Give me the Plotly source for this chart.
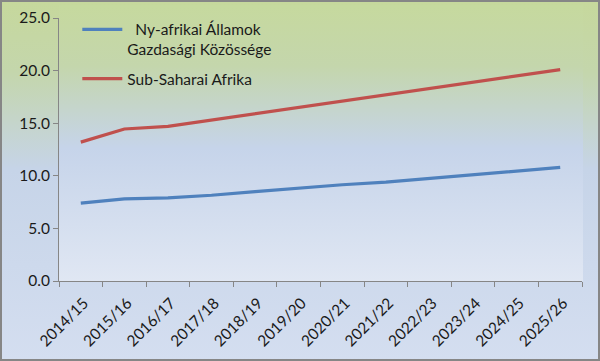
import base64
import plotly.graph_objects as go

categories = ["2014/15", "2015/16", "2016/17", "2017/18", "2018/19", "2019/20",
              "2020/21", "2021/22", "2022/23", "2023/24", "2024/25", "2025/26"]
ecowas = [7.4, 7.8, 7.9, 8.15, 8.5, 8.85, 9.15, 9.4, 9.75, 10.1, 10.4, 10.8]
ssa = [13.2, 14.45, 14.7, 15.3, 15.9, 16.5, 17.1, 17.7, 18.3, 18.9, 19.5, 20.1]
name_ecowas = "\u00a0\u00a0Ny-afrikai Államok<br>Gazdasági Közössége"
name_ssa = "Sub-Saharai Afrika"
yticks = [0, 5, 10, 15, 20, 25]

W, H = 600, 361
L, R, T, B = 59, 18, 18, 80
pw, ph = W - L - R, H - T - B

svg = f'''<svg xmlns="http://www.w3.org/2000/svg" width="{W}" height="{H}" viewBox="0 0 {W} {H}" preserveAspectRatio="none">
<defs>
<linearGradient id="g1" x1="0" y1="0" x2="0" y2="1">
<stop offset="0" stop-color="rgb(198,216,156)"/>
<stop offset="0.2" stop-color="rgb(196,214,172)"/>
<stop offset="0.47" stop-color="rgb(198,212,232)"/>
<stop offset="1" stop-color="rgb(212,222,240)"/>
</linearGradient>
<linearGradient id="g2" x1="0" y1="0" x2="0" y2="1">
<stop offset="0" stop-color="rgb(198,217,158)"/>
<stop offset="0.22" stop-color="rgb(196,214,172)"/>
<stop offset="0.52" stop-color="rgb(198,212,234)"/>
<stop offset="1" stop-color="rgb(224,231,243)"/>
</linearGradient>
</defs>
<rect x="0" y="0" width="{W}" height="{H}" fill="url(#g1)"/>
<rect x="{L}" y="5" width="{pw+1}" height="{H-B-5}" fill="url(#g2)"/>
<rect x="1" y="1" width="{W-2}" height="{H-2}" fill="none" stroke="rgb(134,134,134)" stroke-width="2"/>
</svg>'''
src = "data:image/svg+xml;base64," + base64.b64encode(svg.encode()).decode()

fig = go.Figure()
fig.add_trace(go.Scatter(x=categories, y=ecowas, mode="lines", name=name_ecowas,
                         legendgroup="g1",
                         line=dict(color="#4f81bd", width=3.2)))
fig.add_trace(go.Scatter(x=categories, y=ssa, mode="lines", name=name_ssa,
                         legendgroup="g2",
                         line=dict(color="#c0504d", width=3.2)))

fig.add_layout_image(dict(source=src, xref="paper", yref="paper",
                          x=-L / pw, y=1 + T / ph, sizex=W / pw, sizey=H / ph,
                          xanchor="left", yanchor="top", sizing="stretch",
                          layer="below"))

fig.update_layout(
    width=W, height=H,
    margin=dict(l=L, r=R, t=T, b=B, pad=0, autoexpand=False),
    paper_bgcolor="rgba(0,0,0,0)", plot_bgcolor="rgba(0,0,0,0)",
    font=dict(family="Lato, Open Sans, sans-serif", size=14, color="#1a1a1a"),
    showlegend=True,
    legend=dict(x=0.035, y=1.02, xanchor="left", yanchor="top", valign="top",
                bgcolor="rgba(0,0,0,0)", font=dict(size=15.5),
                itemwidth=40, tracegroupgap=6),
    xaxis=dict(type="category", categoryarray=categories, tickangle=-45,
               showgrid=False, zeroline=False, showline=True, automargin=False,
               linecolor="#868686", linewidth=1, ticks="outside",
               tickson="boundaries", ticklen=5, tickcolor="#868686",
               ticklabelstandoff=6, ticklabelshift=3,
               tickfont=dict(size=15.5), range=[-0.5, len(categories) - 0.5]),
    yaxis=dict(range=[0, 25], tickvals=yticks, ticktext=[f"{v:.1f}" for v in yticks],
               showgrid=False, zeroline=False, showline=True, automargin=False,
               linecolor="#868686", linewidth=1, ticks="outside", ticklen=5,
               tickcolor="#868686", tickfont=dict(size=15.5)),
)

fig.write_html("out.html", config={"displayModeBar": False},
               post_script="document.body.style.margin='0';document.body.style.padding='0';")
